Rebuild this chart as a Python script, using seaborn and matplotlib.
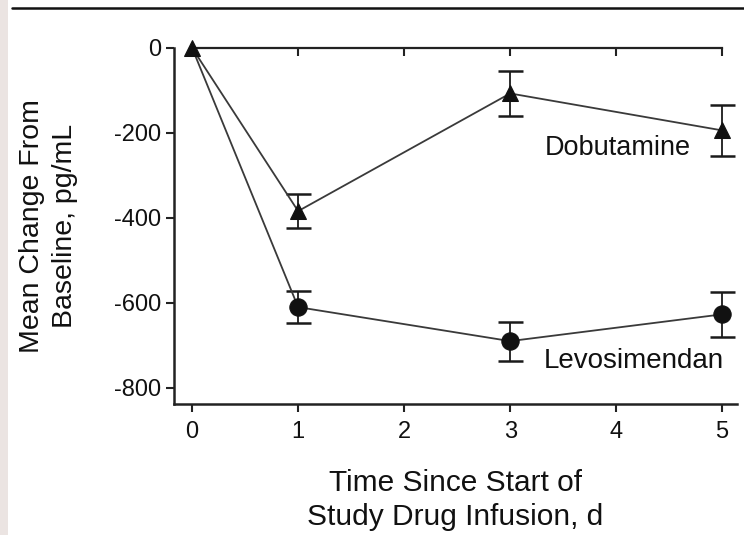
import matplotlib
matplotlib.use("Agg")
import matplotlib.pyplot as plt
import seaborn as sns
import pandas as pd
import numpy as np
from matplotlib.lines import Line2D
from matplotlib.patches import Rectangle

# ---- data ----
days = [0, 1, 3, 5]
dobutamine_mean = [0, -384, -107, -194]
dobutamine_se = [0, 40, 53, 60]
levosimendan_mean = [0, -610, -690, -627]
levosimendan_se = [0, 37, 46, 53]
x_ticks = [0, 1, 2, 3, 4, 5]
y_ticks = [0, -200, -400, -600, -800]

sns.set_theme(style="white")
plt.rcParams['font.family'] = ['Liberation Sans', 'DejaVu Sans']

fig = plt.figure(figsize=(7.44, 5.35), dpi=100)
ax = fig.add_axes([0.234, 0.2449, 0.7566, 0.6654])

df = pd.DataFrame({
    "day": days + days,
    "value": dobutamine_mean + levosimendan_mean,
    "group": ["Dobutamine"] * len(days) + ["Levosimendan"] * len(days),
})

# error bars
ax.errorbar(days[1:], levosimendan_mean[1:], yerr=levosimendan_se[1:], fmt='none',
            ecolor='#1a1a1a', elinewidth=1.3, capsize=9, capthick=1.8, zorder=2, clip_on=False)
ax.errorbar(days[1:], dobutamine_mean[1:], yerr=dobutamine_se[1:], fmt='none',
            ecolor='#1a1a1a', elinewidth=1.3, capsize=9, capthick=1.8, zorder=2, clip_on=False)

sns.lineplot(data=df[df.group == "Levosimendan"], x="day", y="value", ax=ax,
             color='#3a3a3a', linewidth=1.3, marker='o', markersize=12.5,
             markerfacecolor='#111111', markeredgecolor='#111111', zorder=3,
             markevery=[1, 2, 3], clip_on=False, legend=False)
sns.lineplot(data=df[df.group == "Dobutamine"], x="day", y="value", ax=ax,
             color='#3a3a3a', linewidth=1.3, marker='^', markersize=11,
             markerfacecolor='#111111', markeredgecolor='#111111',
             zorder=4, clip_on=False, legend=False)

ax.set_xlim(-0.17, 5.14)
ax.set_ylim(-838, 0)
ax.set_xticks(x_ticks)
ax.set_xticklabels([str(t) for t in x_ticks])
ax.set_yticks(y_ticks)
ax.set_yticklabels([f"-{abs(t)}" if t < 0 else "0" for t in y_ticks])

ax.tick_params(axis='both', direction='out', length=6, width=1.5, color='#222222',
               labelsize=17, labelcolor='#111111', bottom=True, left=True)
ax.tick_params(axis='x', pad=6)
ax.tick_params(axis='y', pad=3)

for s in ['top', 'right']:
    ax.spines[s].set_visible(False)
for s in ['left', 'bottom']:
    ax.spines[s].set_color('#222222')
    ax.spines[s].set_linewidth(1.8)

# top reference line at y=0 with inward ticks
twin = ax.twiny()
twin.set_xlim(ax.get_xlim())
twin.set_xticks(x_ticks[1:])
twin.tick_params(axis='x', direction='in', length=6, width=1.5, color='#222222',
                 labeltop=False, top=True)
for s in ['left', 'right', 'bottom']:
    twin.spines[s].set_visible(False)
twin.spines['top'].set_bounds(0, 5)
twin.spines['top'].set_color('#222222')
twin.spines['top'].set_linewidth(1.6)
twin.set_zorder(ax.get_zorder() - 1)
ax.patch.set_visible(False)

ax.text(3.33, -236, "Dobutamine", fontsize=19.5, va='center', ha='left', color='#111111')
ax.text(3.32, -737, "Levosimendan", fontsize=20, va='center', ha='left', color='#111111')

ax.set_xlabel("Time Since Start of\nStudy Drug Infusion, d", fontsize=21.5,
              color='#111111', linespacing=1.27)
ax.xaxis.set_label_coords(0.5, -0.183)
ax.set_ylabel("Mean Change From\nBaseline, pg/mL", fontsize=20.5,
              color='#111111', linespacing=1.32)
ax.yaxis.set_label_coords(-0.171, 0.5)

# decorative frame elements
fig.add_artist(Rectangle((0, 0), 8 / 744, 1, transform=fig.transFigure,
                         facecolor='#ebe4e2', edgecolor='none'))
fig.add_artist(Line2D([12 / 744, 1], [1 - 8 / 535, 1 - 8 / 535], transform=fig.transFigure,
                      color='#111111', linewidth=1.8))

fig.savefig("out.png", dpi=100)
